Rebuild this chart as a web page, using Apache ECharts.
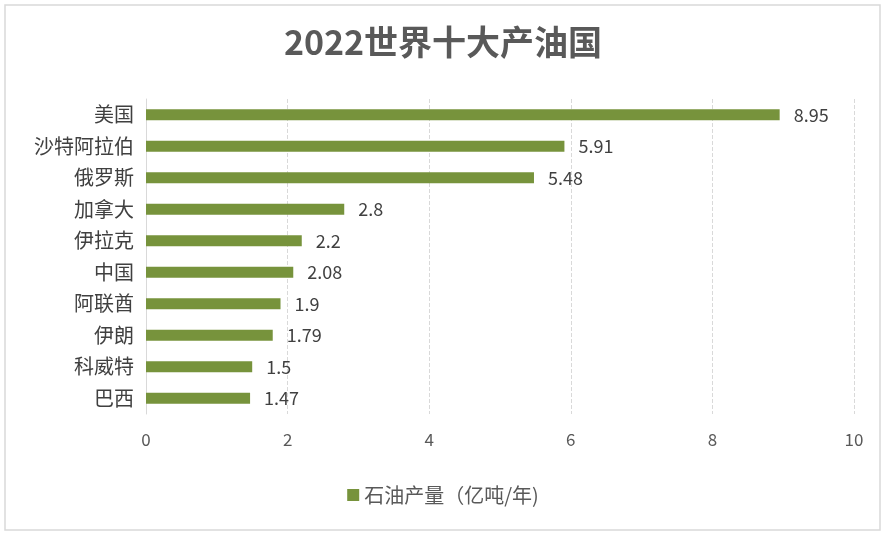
<!DOCTYPE html>
<html><head><meta charset="utf-8">
<script src="https://cdn.jsdelivr.net/npm/echarts@6/dist/echarts.min.js"></script>
<style>html,body{margin:0;padding:0;background:#fff}#c{width:886px;height:536px}</style>
</head><body><div id="c"></div>
<script>
const categories = ['美国','沙特阿拉伯','俄罗斯','加拿大','伊拉克','中国','阿联酋','伊朗','科威特','巴西'];
const values = [8.95, 5.91, 5.48, 2.8, 2.2, 2.08, 1.9, 1.79, 1.5, 1.47];
const seriesName = '石油产量（亿吨/年)';
const titleText = '2022世界十大产油国';
const chart = echarts.init(document.getElementById('c'));
const font = '"Noto Sans CJK SC", "Noto Sans", sans-serif';
chart.setOption({
  animation: false,
  textStyle: { fontFamily: font },
  graphic: [{ type: 'rect', shape: { x: 5, y: 5, width: 875, height: 525 }, style: { fill: 'none', stroke: '#d9d9d9', lineWidth: 1.5 } }],
  title: { text: titleText, left: 'center', top: 20, textStyle: { fontSize: 34, fontWeight: 'bold', color: '#595959', fontFamily: font } },
  legend: { bottom: 26, left: 'center', itemWidth: 12, itemHeight: 12, itemGap: 6, icon: 'rect', textStyle: { fontSize: 20, color: '#595959' }, data: [seriesName] },
  grid: { left: 146, right: 32, top: 99, bottom: 122, containLabel: false },
  xAxis: { type: 'value', min: 0, max: 10, interval: 2,
    axisLine: { show: false }, axisTick: { show: false },
    axisLabel: { fontSize: 17, color: '#595959', margin: 17 },
    splitLine: { lineStyle: { type: 'dashed', color: '#d9d9d9' } } },
  yAxis: { type: 'category', inverse: true, data: categories,
    axisLine: { lineStyle: { color: '#d9d9d9' } }, axisTick: { show: false },
    axisLabel: { fontSize: 20, color: '#404040', margin: 12 } },
  series: [{ name: seriesName, type: 'bar', data: values, barWidth: 11,
    itemStyle: { color: '#77933C' },
    label: { show: true, position: 'right', distance: 14, fontSize: 18, color: '#404040' } }]
});
</script></body></html>
